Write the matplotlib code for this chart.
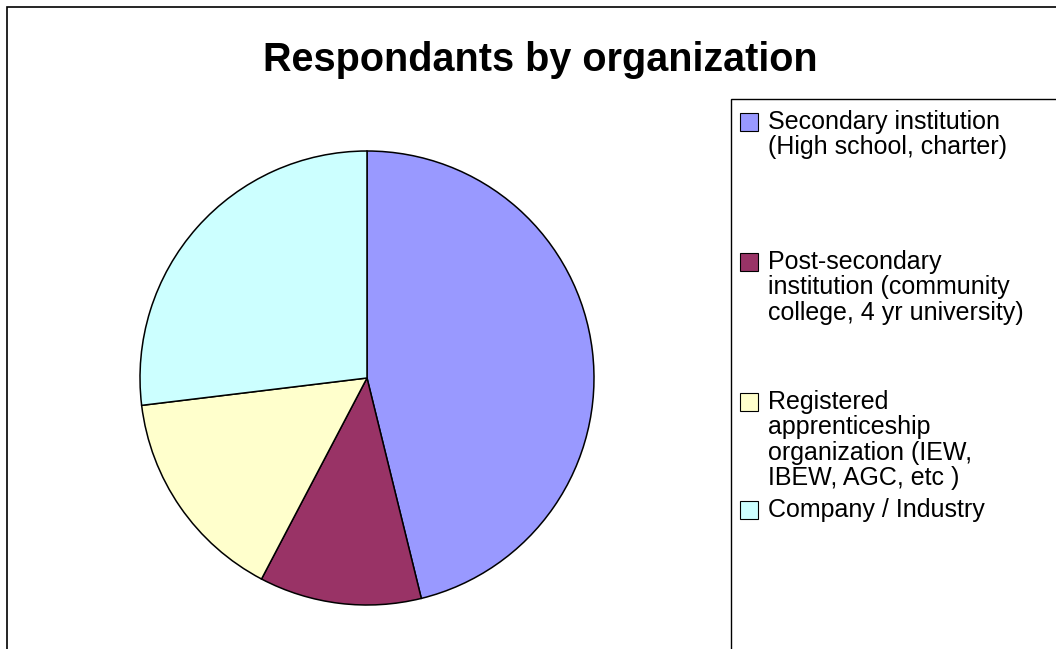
import matplotlib.pyplot as plt
from matplotlib.patches import Rectangle

labels = ["Secondary institution\n(High school, charter)",
          "Post-secondary\ninstitution (community\ncollege, 4 yr university)",
          "Registered\napprenticeship\norganization (IEW,\nIBEW, AGC, etc )",
          "Company / Industry"]
counts = [12, 3, 4, 7]
colors = ["#9999FF", "#993366", "#FFFFCC", "#CCFFFF"]

W, H = 1056, 649
plt.rcParams['font.family'] = ['Liberation Sans', 'DejaVu Sans']
fig = plt.figure(figsize=(W / 100, H / 100), dpi=100)

def fx(px):
    return px / W

def fy(py):
    return 1 - py / H

# outer chart border
fig.patches.append(Rectangle((fx(7), fy(H + 20)), fx(W + 20), (H + 13) / H,
                             transform=fig.transFigure, fill=False,
                             edgecolor='black', linewidth=1.2))

fig.text(fx(540), fy(71), "Respondants by organization", ha='center', va='baseline',
         fontsize=28.5, fontweight='bold')

# pie
cx, cy, r = 367, 378, 227
ax = fig.add_axes([fx(cx - r), fy(cy + r), 2 * r / W, 2 * r / H])
ax.pie(counts, colors=colors, startangle=90, counterclock=False,
       wedgeprops=dict(edgecolor='black', linewidth=1.1))
ax.set_xlim(-1, 1)
ax.set_ylim(-1, 1)
ax.set_aspect('auto')
ax.axis('off')

# legend box (Excel style, uneven spacing)
fig.patches.append(Rectangle((fx(731), fy(H + 20)), fx(W), (H + 20 - 99) / H,
                             transform=fig.transFigure, fill=False,
                             edgecolor='black', linewidth=1.0))
entry_y = [122, 262, 402, 510]
line_h = 25.4
for lab, col, ey in zip(labels, colors, entry_y):
    fig.patches.append(Rectangle((fx(740), fy(ey + 9)), fx(18), 18 / H,
                                 transform=fig.transFigure, facecolor=col,
                                 edgecolor='black', linewidth=0.8))
    for i, line in enumerate(lab.split("\n")):
        fig.text(fx(768), fy(ey + i * line_h), line, ha='left', va='center',
                 fontsize=18)

fig.savefig("out.png", dpi=100)
